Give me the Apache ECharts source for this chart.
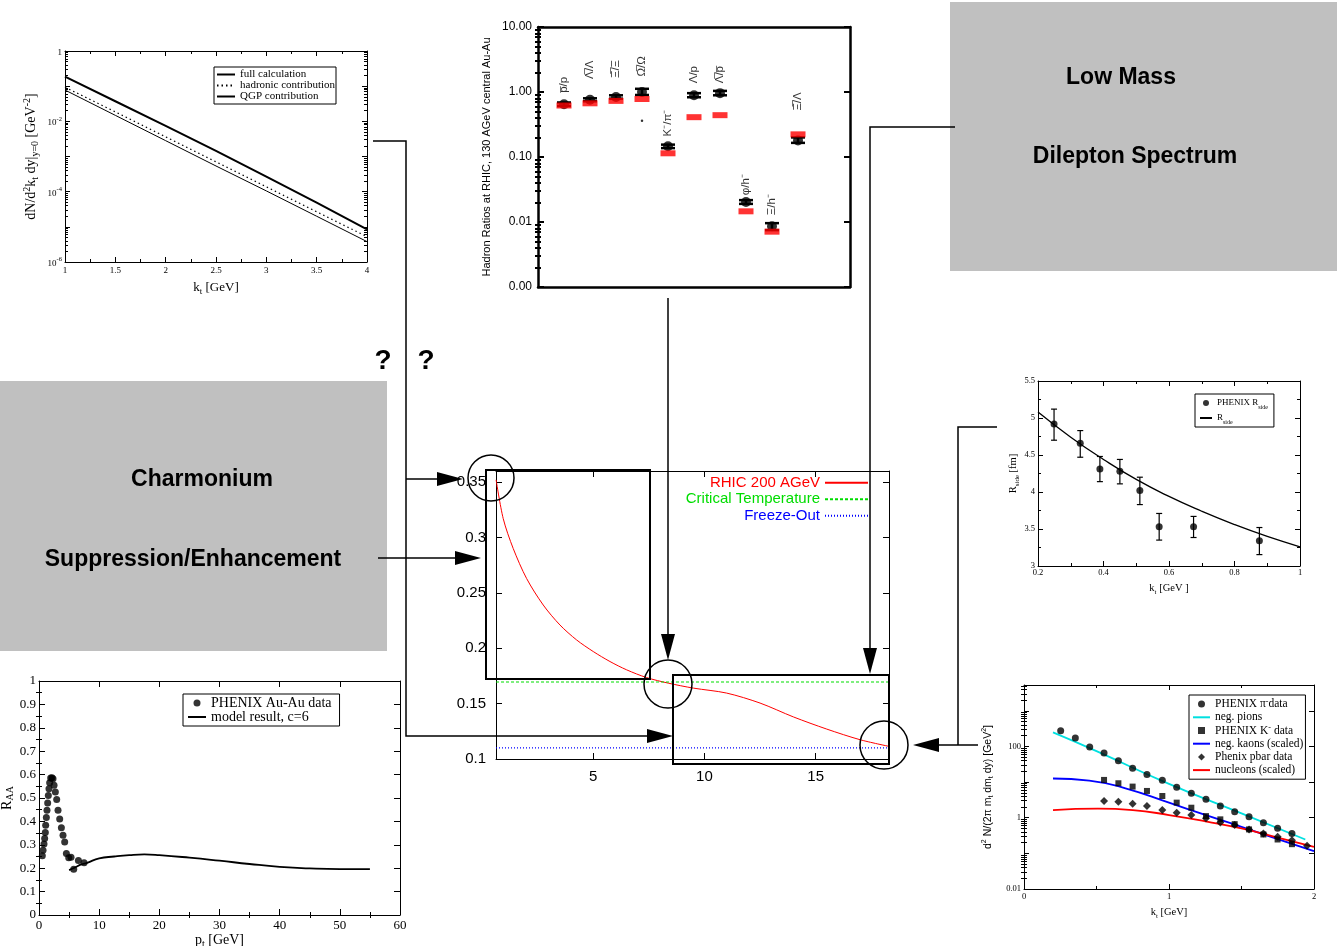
<!DOCTYPE html>
<html><head><meta charset="utf-8">
<script src="https://cdn.jsdelivr.net/npm/echarts@6/dist/echarts.min.js"></script>
<style>html,body{margin:0;padding:0;background:#fff}#c{width:1337px;height:946px}</style>
</head><body><div id="c"></div>
<script>
// ================= DATA =================
// Panel A: photon spectrum (top-left)
const specK    = [1, 1.5, 2, 2.5, 3, 3.5, 4];
const specFull = [0.186, 0.0372, 0.00741, 0.00145, 2.69e-4, 4.9e-5, 8.5e-6];
const specHad  = [0.0933, 0.0186, 0.00363, 7.08e-4, 1.38e-4, 2.69e-5, 5.25e-6];
const specQGP  = [0.0776, 0.0148, 0.00282, 5.37e-4, 1.05e-4, 2.0e-5, 3.8e-6];
const specXTicks = [1, 1.5, 2, 2.5, 3, 3.5, 4];
const specYTicks = [1e-6, 1e-4, 1e-2, 1];

// Panel B: hadron ratios (top-centre)
const ratioNames  = ['p\u0305/p', '\u039B\u0305/\u039B', '\u039E\u0305/\u039E', '\u03A9\u0305/\u03A9', 'K\u207B/\u03C0\u207B', '\u039B/p', '\u039B\u0305/p\u0305', '\u03C6/h\u207B', '\u039E/h\u207B', '\u039E\u0305/\u039B'];
const ratioPos    = [1, 2, 3, 4, 5, 6, 7, 8, 9, 10];
const ratioData   = [0.65, 0.76, 0.84, 1.0, 0.146, 0.89, 0.96, 0.0203, 0.0086, 0.18];
const ratioLow    = [0.61, 0.72, 0.79, 0.90, 0.137, 0.83, 0.89, 0.0190, 0.0075, 0.165];
const ratioHigh   = [0.69, 0.80, 0.89, 1.12, 0.155, 0.96, 1.04, 0.0217, 0.0096, 0.20];
const ratioModel  = [0.62, 0.67, 0.73, 0.78, 0.114, 0.41, 0.44, 0.0146, 0.0071, 0.223];
const ratioLabelY = [1.29, 2.2, 2.26, 2.48, 0.333, 1.85, 1.85, 0.0375, 0.0185, 0.716];
const ratioStray  = [[4, 0.36]];
const ratioYTicks = [0.001, 0.01, 0.1, 1, 10];

// Panel C: temperature evolution (centre)
const tauTime = [0.63, 0.95, 1.4, 2.0, 2.75, 3.5, 4.25, 5.0, 5.75, 6.5, 7.4, 8.37, 9.5, 11.0, 12.5, 14.0, 15.5, 17.0, 18.3];
const tauTemp = [0.352, 0.317, 0.290, 0.263, 0.239, 0.221, 0.2075, 0.197, 0.188, 0.1805, 0.1735, 0.1685, 0.164, 0.1595, 0.1505, 0.138, 0.127, 0.1174, 0.1114];
const tCrit = 0.1695;
const tFreeze = 0.11;
const tauXTicks = [5, 10, 15];
const tauYTicks = [0.1, 0.15, 0.2, 0.25, 0.3, 0.35];

// Panel D: R_side (right middle)
const rsideK  = [0.249, 0.329, 0.389, 0.450, 0.511, 0.570, 0.675, 0.876];
const rsideR  = [4.92, 4.66, 4.31, 4.28, 4.02, 3.53, 3.53, 3.34];
const rsideLo = [4.70, 4.47, 4.14, 4.11, 3.83, 3.35, 3.385, 3.154];
const rsideHi = [5.12, 4.83, 4.48, 4.44, 4.20, 3.71, 3.67, 3.52];
const rsideCurveK = [0.2, 0.3, 0.4, 0.5, 0.6, 0.7, 0.8, 0.9, 1.0];
const rsideCurveR = [5.08, 4.74, 4.44, 4.17, 3.94, 3.74, 3.56, 3.40, 3.26];
const rsideXTicks = [0.2, 0.4, 0.6, 0.8, 1];
const rsideYTicks = [3, 3.5, 4, 4.5, 5, 5.5];

// Panel E: R_AA (bottom-left)
const raaPt  = [0.55, 0.67, 0.83, 0.94, 1.05, 1.11, 1.22, 1.33, 1.44, 1.55, 1.66, 1.77, 1.94, 2.16, 2.33, 2.5, 2.72, 2.94, 3.16, 3.44, 3.72, 3.99, 4.27, 4.55, 4.94, 5.32, 5.77, 6.55, 7.49];
const raaVal = [0.253, 0.277, 0.303, 0.327, 0.353, 0.384, 0.417, 0.448, 0.479, 0.511, 0.539, 0.565, 0.585, 0.587, 0.582, 0.555, 0.526, 0.494, 0.448, 0.41, 0.373, 0.341, 0.312, 0.263, 0.245, 0.247, 0.196, 0.233, 0.223];
const raaModelPt  = [5, 6, 7, 8, 10, 12.5, 15, 17.5, 20, 25, 30, 35, 40, 45, 50, 55];
const raaModelVal = [0.192, 0.203, 0.216, 0.223, 0.242, 0.25, 0.256, 0.259, 0.256, 0.245, 0.232, 0.218, 0.206, 0.199, 0.196, 0.196];
const raaXTicks = [0, 10, 20, 30, 40, 50, 60];
const raaYTicks = [0, 0.1, 0.2, 0.3, 0.4, 0.5, 0.6, 0.7, 0.8, 0.9, 1];

// Panel F: spectra (bottom-right)
const pionK = [0.253, 0.354, 0.453, 0.552, 0.651, 0.749, 0.848, 0.954, 1.053, 1.154, 1.255, 1.354, 1.453, 1.552, 1.651, 1.749, 1.848];
const pionY = [277, 172, 96, 65, 40, 24.5, 16.3, 11.3, 7.15, 4.85, 3.28, 2.13, 1.48, 1.07, 0.72, 0.51, 0.362];
const kaonK = [0.552, 0.651, 0.749, 0.848, 0.954, 1.053, 1.154, 1.255, 1.354, 1.453, 1.552, 1.651, 1.749, 1.848];
const kaonY = [11.5, 9.27, 7.47, 5.64, 4.07, 2.65, 1.91, 1.11, 0.90, 0.66, 0.47, 0.339, 0.245, 0.181];
const pbarK = [0.552, 0.651, 0.749, 0.848, 0.954, 1.053, 1.154, 1.255, 1.354, 1.453, 1.552, 1.651, 1.749, 1.848, 1.952];
const pbarY = [2.95, 2.82, 2.48, 2.13, 1.64, 1.38, 1.19, 0.96, 0.74, 0.62, 0.47, 0.362, 0.292, 0.235, 0.163];
const pionLineK = [0.2, 0.5, 1.0, 1.5, 1.94];
const pionLineY = [248, 74, 8.9, 1.32, 0.245];
const kaonLineK = [0.2, 0.45, 0.7, 1.0, 1.25, 1.5, 1.75, 2.0];
const kaonLineY = [12.6, 11, 6.7, 2.65, 1.2, 0.557, 0.25, 0.115];
const nucLineK  = [0.2, 0.51, 0.75, 1.0, 1.27, 1.5, 1.73, 2.0];
const nucLineY  = [1.64, 1.79, 1.64, 1.19, 0.77, 0.5, 0.29, 0.152];
const spXTicks = [0, 1, 2];
const spYLabels = [0.01, 1, 100];
const spYMajors = [0.01, 0.1, 1, 10, 100, 1000];

// ================= HELPERS =================
const SERIF = '"Liberation Serif","DejaVu Serif",serif';
const SANS = '"Liberation Sans",Arial,sans-serif';
const zip = (a, b) => a.map((v, i) => [v, b[i]]);
const clean = v => Number(v.toPrecision(10));
function logMinors(e0, e1, maxV) {
  const out = [];
  for (let e = e0; e <= e1; e++) for (let m = 2; m <= 9; m++) {
    const v = clean(m * Math.pow(10, e));
    if (maxV === undefined || v <= maxV) out.push(v);
  }
  return out;
}
function steps(a, b, s) { const o = []; for (let v = a; v <= b + 1e-9; v += s) o.push(clean(v)); return o; }
function RICH(fs, fam) {
  return {
    n: {fontSize: fs, fontFamily: fam, lineHeight: fs + 4, verticalAlign: 'middle', color: '#000'},
    sub: {fontSize: Math.round(fs * 0.7), fontFamily: fam, lineHeight: Math.round(fs * 0.7), verticalAlign: 'bottom', color: '#000'},
    sup: {fontSize: Math.round(fs * 0.7), fontFamily: fam, lineHeight: Math.round(fs * 0.7), verticalAlign: 'top', color: '#000'}
  };
}

const xAxes = [], yAxes = [];
function addAxes(list, grid, dim, c) {
  const sides = dim === 'x' ? ['bottom', 'top'] : ['left', 'right'];
  const mainIndex = list.length;
  sides.forEach((side, k) => {
    const base = {gridIndex: grid, type: c.type || 'value', min: c.min, max: c.max, position: side,
      silent: true, splitLine: {show: false}, axisPointer: {show: false}};
    list.push(Object.assign({}, base, {
      axisLine: {show: true, onZero: false, lineStyle: {color: '#000', width: c.lineWidth || 1}},
      axisTick: {show: !!c.majors, inside: true, length: c.tickLen || 5, customValues: c.majors,
        lineStyle: {color: '#000', width: c.tickWidth || 1}},
      axisLabel: {show: k === 0 && !!c.labels, customValues: c.labels, formatter: c.fmt, margin: c.margin || 4,
        color: '#000', fontFamily: c.font, fontSize: c.fontSize, rich: c.labelRich, hideOverlap: false},
      name: k === 0 ? (c.name || '') : '', nameLocation: 'middle', nameGap: c.nameGap || 20,
      nameTextStyle: {fontFamily: c.nameFont || c.font, fontSize: c.nameSize || 10, color: '#000', rich: c.nameRich}
    }));
    if (c.minors) {
      list.push(Object.assign({}, base, {
        axisLine: {show: false},
        axisTick: {show: true, inside: true, length: c.minorLen || 3, customValues: c.minors,
          lineStyle: {color: '#000', width: c.tickWidth || 1}},
        axisLabel: {show: false}
      }));
    }
  });
  return mainIndex;
}

// ================= GRIDS & AXES =================
const grids = [
  {left: 65, top: 51, width: 302, height: 211},    // 0 spectrum
  {left: 538, top: 27, width: 312, height: 260},   // 1 hadron ratios
  {left: 496, top: 471, width: 393, height: 288},  // 2 temperature
  {left: 1038, top: 381, width: 262, height: 185}, // 3 R_side
  {left: 39, top: 681, width: 361, height: 234},   // 4 R_AA
  {left: 1024, top: 685, width: 290, height: 204}  // 5 spectra
].map(g => Object.assign({containLabel: false, outerBoundsMode: 'none', show: false}, g));

// 0 spectrum
const x0 = addAxes(xAxes, 0, 'x', {min: 1, max: 4, majors: specXTicks, labels: specXTicks, minors: steps(1.25, 3.75, 0.5),
  font: SERIF, fontSize: 9, margin: 4, tickLen: 5, minorLen: 3,
  name: '{n|k}{sub|t}{n| [GeV]}', nameRich: RICH(13, SERIF), nameGap: 17});
const y0 = addAxes(yAxes, 0, 'y', {type: 'log', min: 1e-6, max: 1, majors: [1e-6, 1e-5, 1e-4, 1e-3, 1e-2, 1e-1, 1],
  labels: specYTicks, minors: logMinors(-6, -1),
  fmt: v => { const e = Math.round(Math.log10(v)); return e === 0 ? '{b|1}' : '{b|10}{s|' + e + '}'; },
  labelRich: {b: {fontSize: 9, fontFamily: SERIF, lineHeight: 12, verticalAlign: 'bottom', color: '#000'},
              s: {fontSize: 6.5, fontFamily: SERIF, lineHeight: 6.5, verticalAlign: 'top', color: '#000'}},
  font: SERIF, fontSize: 9, margin: 3, tickLen: 5, minorLen: 3,
  name: '{n|dN/d}{sup|2}{n|k}{sub|t}{n| dy|}{sub|y=0}{n| [GeV}{sup|-2}{n|]}', nameRich: RICH(14, SERIF), nameGap: 25});

// 1 hadron ratios
const x1 = addAxes(xAxes, 1, 'x', {min: 0, max: 12, lineWidth: 2.5});
const y1 = addAxes(yAxes, 1, 'y', {type: 'log', min: 0.001, max: 10, majors: ratioYTicks, labels: ratioYTicks,
  minors: logMinors(-3, 0), fmt: v => v.toFixed(2), font: SANS, fontSize: 12, margin: 6,
  lineWidth: 2.5, tickWidth: 2, tickLen: 6, minorLen: 3,
  name: 'Hadron Ratios at RHIC, 130 AGeV central Au-Au', nameFont: SANS, nameSize: 11, nameGap: 46});

// 2 temperature
const x2 = addAxes(xAxes, 2, 'x', {min: 0.625, max: 18.3, majors: tauXTicks, labels: tauXTicks,
  font: SANS, fontSize: 15, margin: 10, tickLen: 6});
const y2 = addAxes(yAxes, 2, 'y', {min: 0.1, max: 0.36, majors: tauYTicks, labels: tauYTicks,
  font: SANS, fontSize: 15, margin: 10, tickLen: 6});

// 3 R_side
const x3 = addAxes(xAxes, 3, 'x', {min: 0.2, max: 1, majors: rsideXTicks, labels: rsideXTicks, minors: [0.3, 0.5, 0.7, 0.9],
  font: SERIF, fontSize: 8.5, margin: 2, tickLen: 5, minorLen: 3,
  name: '{n|k}{sub|t}{n| [GeV ]}', nameRich: RICH(10.5, SERIF), nameGap: 15});
const y3 = addAxes(yAxes, 3, 'y', {min: 3, max: 5.5, majors: rsideYTicks, labels: rsideYTicks, minors: steps(3.25, 5.25, 0.5),
  font: SERIF, fontSize: 8.5, margin: 3, tickLen: 5, minorLen: 3,
  name: '{n|R}{sub|side}{n| [fm]}', nameRich: RICH(10.5, SERIF), nameGap: 17});

// 4 R_AA
const x4 = addAxes(xAxes, 4, 'x', {min: 0, max: 60, majors: raaXTicks, labels: raaXTicks, minors: steps(5, 55, 10),
  font: SERIF, fontSize: 13, margin: 4, tickLen: 6, minorLen: 3,
  name: '{n|p}{sub|t}{n| [GeV]}', nameRich: RICH(14, SERIF), nameGap: 15});
const y4 = addAxes(yAxes, 4, 'y', {min: 0, max: 1, majors: raaYTicks, labels: raaYTicks, minors: steps(0.05, 0.95, 0.1),
  font: SERIF, fontSize: 13, margin: 3, tickLen: 6, minorLen: 3,
  name: '{n|R}{sub|AA}', nameRich: RICH(14, SERIF), nameGap: 21});

// 5 spectra
const x5 = addAxes(xAxes, 5, 'x', {min: 0, max: 2, majors: spXTicks, labels: spXTicks, minors: [0.5, 1.5],
  font: SERIF, fontSize: 8.5, margin: 3, tickLen: 5, minorLen: 3,
  name: '{n|k}{sub|t}{n| [GeV]}', nameRich: RICH(10.5, SERIF), nameGap: 16});
const y5 = addAxes(yAxes, 5, 'y', {type: 'log', min: 0.01, max: 5300, majors: spYMajors, labels: spYLabels,
  minors: logMinors(-2, 3, 5300), font: SERIF, fontSize: 8.5, margin: 3, tickLen: 5, minorLen: 3,
  name: '{n|d}{sup|2}{n| N/(2\u03C0 m}{sub|t}{n| dm}{sub|t}{n| dy) [GeV}{sup|2}{n|]}', nameRich: RICH(10.5, SANS), nameGap: 29});

// ================= SERIES =================
function errRender(capW, lw) {
  return function (params, api) {
    const x = api.value(0), lo = api.value(1), hi = api.value(2);
    const p1 = api.coord([x, lo]), p2 = api.coord([x, hi]);
    const st = {stroke: '#000', lineWidth: lw};
    return {type: 'group', children: [
      {type: 'line', shape: {x1: p1[0], y1: p1[1], x2: p2[0], y2: p2[1]}, style: st},
      {type: 'line', shape: {x1: p1[0] - capW / 2, y1: p1[1], x2: p1[0] + capW / 2, y2: p1[1]}, style: st},
      {type: 'line', shape: {x1: p2[0] - capW / 2, y1: p2[1], x2: p2[0] + capW / 2, y2: p2[1]}, style: st}
    ]};
  };
}
const ax = (xi, yi) => ({xAxisIndex: xi, yAxisIndex: yi});
const lineS = (name, xi, yi, data, color, width, type, extra) => Object.assign({
  type: 'line', name, data, showSymbol: false, symbol: 'none', silent: true,
  lineStyle: {color, width, type: type || 'solid'}, itemStyle: {color}, z: 3
}, ax(xi, yi), extra || {});
const scat = (name, xi, yi, data, symbol, size, extra) => Object.assign({
  type: 'scatter', name, silent: true, symbol, symbolSize: size, symbolKeepAspect: true,
  itemStyle: {color: '#000'}, data, z: 4
}, ax(xi, yi), extra || {});

const series = [
  // panel A
  lineS('full calculation', x0, y0, zip(specK, specFull), '#000', 2),
  lineS('hadronic contribution', x0, y0, zip(specK, specHad), '#000', 1.2, [1.5, 3]),
  lineS('QGP contribution', x0, y0, zip(specK, specQGP), '#000', 1),
  // panel B
  Object.assign({type: 'custom', silent: true, renderItem: errRender(14, 2.5), encode: {x: 0, y: [1, 2]},
    data: ratioPos.map((p, i) => [p, ratioLow[i], ratioHigh[i]]), z: 4}, ax(x1, y1)),
  scat(undefined, x1, y1, zip(ratioPos, ratioData), 'circle', 10),
  scat(undefined, x1, y1, zip(ratioPos, ratioModel), 'rect', [15, 6], {symbolKeepAspect: false, itemStyle: {color: '#ff0000'}, z: 5}),
  scat(undefined, x1, y1, ratioStray, 'circle', 2.5),
  Object.assign({type: 'scatter', silent: true, symbolSize: 1, itemStyle: {color: 'rgba(0,0,0,0)'},
    data: ratioPos.map((p, i) => [p, ratioLabelY[i], ratioNames[i]]),
    label: {show: true, position: 'inside', rotate: 90, formatter: p => p.data[2], fontFamily: SANS, fontSize: 11.5, color: '#000'},
    z: 6}, ax(x1, y1)),
  // panel C
  lineS('RHIC 200 AGeV', x2, y2, zip(tauTime, tauTemp), '#ff0000', 1, 'solid', {smooth: 0.3}),
  lineS('Critical Temperature', x2, y2, [[0.625, tCrit], [18.3, tCrit]], '#00dd00', 1.2, [3, 2]),
  lineS('Freeze-Out', x2, y2, [[0.625, tFreeze], [18.3, tFreeze]], '#0000ff', 1.2, [1, 2]),
  // panel D
  Object.assign({type: 'custom', silent: true, renderItem: errRender(6, 1.2), encode: {x: 0, y: [1, 2]},
    data: rsideK.map((k, i) => [k, rsideLo[i], rsideHi[i]]), z: 4}, ax(x3, y3)),
  scat('PHENIX Rside', x3, y3, zip(rsideK, rsideR), 'circle', 7),
  lineS('Rside', x3, y3, zip(rsideCurveK, rsideCurveR), '#000', 1.3, 'solid', {smooth: true}),
  // panel E
  scat('PHENIX Au-Au data', x4, y4, zip(raaPt, raaVal), 'circle', 7),
  lineS('model result, c=6', x4, y4, zip(raaModelPt, raaModelVal), '#000', 1.8, 'solid', {smooth: true}),
  // panel F
  scat('PHENIX pi data', x5, y5, zip(pionK, pionY), 'circle', 7),
  lineS('neg. pions', x5, y5, zip(pionLineK, pionLineY), '#00e0e0', 1.8, 'solid', {smooth: true}),
  scat('PHENIX K data', x5, y5, zip(kaonK, kaonY), 'rect', 6),
  lineS('neg. kaons (scaled)', x5, y5, zip(kaonLineK, kaonLineY), '#0000ff', 1.8, 'solid', {smooth: true}),
  scat('Phenix pbar data', x5, y5, zip(pbarK, pbarY), 'diamond', 8),
  lineS('nucleons (scaled)', x5, y5, zip(nucLineK, nucLineY), '#ff0000', 1.8, 'solid', {smooth: true})
];

// ================= LEGENDS =================
const LEGNAME = {
  'PHENIX Rside': '{n|PHENIX R}{sub|side}',
  'Rside': '{n|R}{sub|side}',
  'PHENIX pi data': '{n|PHENIX \u03C0}{sup|-}{n|data}',
  'PHENIX K data': '{n|PHENIX K}{sup|-}{n| data}'
};
const LINE_ITEMS = new Set(['full calculation', 'hadronic contribution', 'QGP contribution', 'RHIC 200 AGeV',
  'Critical Temperature', 'Freeze-Out', 'Rside', 'model result, c=6', 'neg. pions', 'neg. kaons (scaled)', 'nucleons (scaled)']);
const SYM_ICON = {
  'PHENIX K data': 'path://M0,0L10,0L10,10L0,10Z',
  'Phenix pbar data': 'path://M5,0L10,5L5,10L0,5Z'
};
const legItem = n => LINE_ITEMS.has(n) ? {name: n, itemStyle: {opacity: 0}} : (SYM_ICON[n] ? {name: n, icon: SYM_ICON[n]} : {name: n});
const legBase = {orient: 'vertical', selectedMode: false, borderColor: '#000', borderWidth: 1,
  backgroundColor: '#fff', inactiveColor: '#000', z: 20, symbolKeepAspect: true};
function leg(o, fs, lh, fam) {
  return Object.assign({}, legBase, {
    formatter: n => LEGNAME[n] || ('{n|' + n + '}'),
    textStyle: {fontFamily: fam, fontSize: fs, lineHeight: lh, color: '#000',
      rich: Object.assign(RICH(fs, fam), {n: {fontSize: fs, fontFamily: fam, lineHeight: lh, verticalAlign: 'middle', color: '#000'}})}
  }, o, {data: o.data.map(legItem)});
}
const legends = [
  leg({data: ['full calculation', 'hadronic contribution', 'QGP contribution'], left: 214, top: 67,
    itemWidth: 18, itemHeight: 6, itemGap: 0, padding: [2, 1, 2, 2]}, 11, 10.3, SERIF),
  Object.assign({}, legBase, {data: [
      {name: 'RHIC 200 AGeV', textStyle: {color: '#ff0000'}, itemStyle: {opacity: 0}},
      {name: 'Critical Temperature', textStyle: {color: '#00dd00'}, itemStyle: {opacity: 0}},
      {name: 'Freeze-Out', textStyle: {color: '#0000ff'}, itemStyle: {opacity: 0}}],
    right: 468, top: 475, align: 'right', itemWidth: 43, itemHeight: 8, itemGap: 1, padding: 0,
    borderWidth: 0, backgroundColor: 'transparent',
    textStyle: {fontFamily: SANS, fontSize: 15, lineHeight: 15.5}}),
  leg({data: ['PHENIX Rside', 'Rside'], left: 1195, top: 394, itemWidth: 12, itemHeight: 6, itemGap: 1,
    padding: [2, 6, 2, 4]}, 9, 14, SERIF),
  leg({data: ['PHENIX Au-Au data', 'model result, c=6'], left: 183, top: 694, itemWidth: 18, itemHeight: 7, itemGap: 0,
    padding: [2, 8, 2, 4]}, 14, 14, SERIF),
  leg({data: ['PHENIX pi data', 'neg. pions', 'PHENIX K data', 'neg. kaons (scaled)', 'Phenix pbar data', 'nucleons (scaled)'],
    left: 1189, top: 695, itemWidth: 17, itemHeight: 7, itemGap: 1, padding: [3, 2, 3, 3]}, 11.5, 12.2, SERIF)
];

// ================= DECORATIONS =================
function pl(points, w) { return {type: 'polyline', z: 100, shape: {points}, style: {stroke: '#000', lineWidth: w || 1.5, fill: null}}; }
function head(tx, ty, dir) {
  const L = 26, H = 7;
  let pts;
  if (dir === 'right') pts = [[tx - L, ty - H], [tx, ty], [tx - L, ty + H]];
  else if (dir === 'left') pts = [[tx + L, ty - H], [tx, ty], [tx + L, ty + H]];
  else pts = [[tx - H, ty - L], [tx, ty], [tx + H, ty - L]];
  return {type: 'polygon', z: 100, shape: {points: pts}, style: {fill: '#000'}};
}
function txt(s, x, y, size) {
  return {type: 'text', z: 100, style: {text: s, x, y, align: 'center', verticalAlign: 'middle',
    fontFamily: SANS, fontWeight: 'bold', fontSize: size, fill: '#000'}};
}
function circ(cx, cy, r) { return {type: 'circle', z: 100, shape: {cx, cy, r}, style: {stroke: '#000', lineWidth: 1.5, fill: null}}; }
function box(x, y, w, h) { return {type: 'rect', z: 100, shape: {x, y, width: w, height: h}, style: {stroke: '#000', lineWidth: 2, fill: null}}; }

const graphic = [
  {type: 'rect', z: 0, shape: {x: 950, y: 2, width: 387, height: 269}, style: {fill: '#c0c0c0'}},
  {type: 'rect', z: 0, shape: {x: 0, y: 381, width: 387, height: 270}, style: {fill: '#c0c0c0'}},
  txt('Low Mass', 1121, 78, 23), txt('Dilepton Spectrum', 1135, 157, 23),
  txt('Charmonium', 202, 480, 23), txt('Suppression/Enhancement', 193, 560, 23),
  txt('?', 383, 361, 28), txt('?', 426, 361, 28),
  pl([[373, 141], [406, 141], [406, 736], [648, 736]]), head(673, 736, 'right'),
  pl([[406, 479], [440, 479]]), head(463, 479, 'right'),
  pl([[378, 558], [456, 558]]), head(481, 558, 'right'),
  pl([[668, 298], [668, 636]]), head(668, 660, 'down'),
  pl([[955, 127], [870, 127], [870, 650]]), head(870, 674, 'down'),
  pl([[997, 427], [958, 427], [958, 745]]), pl([[978, 745], [938, 745]]), head(913, 745, 'left'),
  box(486, 470, 164, 209), box(673, 675, 216, 89),
  circ(491, 478, 23), circ(668, 684, 24), circ(884, 745, 24)
];

const chart = echarts.init(document.getElementById('c'), null, {renderer: 'canvas', width: 1337, height: 946});
chart.setOption({
  animation: false, backgroundColor: '#fff',
  grid: grids, xAxis: xAxes, yAxis: yAxes, series, legend: legends, graphic,
  tooltip: {show: false}
});
</script></body></html>
